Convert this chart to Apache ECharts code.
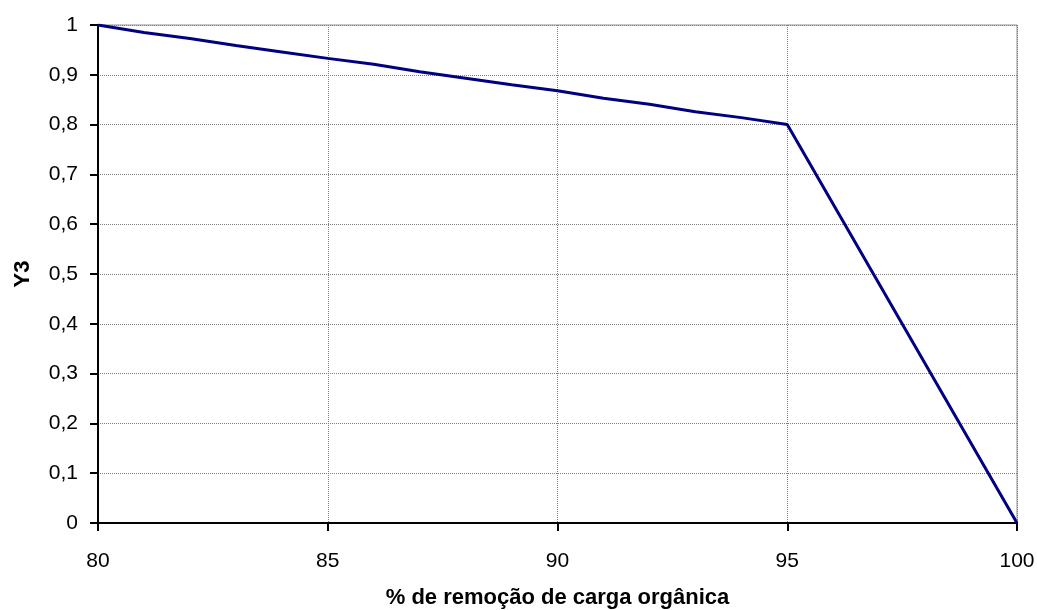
<!DOCTYPE html>
<html>
<head>
<meta charset="utf-8">
<script src="https://cdn.jsdelivr.net/npm/echarts@6/dist/echarts.min.js"></script>
<style>
  html, body { margin: 0; padding: 0; background: #fff; }
  #chart { width: 1037px; height: 610px; }
</style>
</head>
<body>
<div id="chart"></div>
<script>
// % de remoção de carga orgânica
var remocao = [80, 81, 82, 83, 84, 85, 86, 87, 88, 89, 90, 91, 92, 93, 94, 95, 100];
// Y3
var y3 = [1, 0.985, 0.973, 0.959, 0.946, 0.933, 0.921, 0.906, 0.893, 0.880,
          0.868, 0.853, 0.841, 0.826, 0.814, 0.8, 0];

var pontos = [];
for (var i = 0; i < remocao.length; i++) {
    pontos.push([remocao[i], y3[i]]);
}

var chart = echarts.init(document.getElementById('chart'));

var option = {
    backgroundColor: '#ffffff',
    animation: false,
    textStyle: { fontFamily: '"Liberation Sans", Arial, sans-serif' },
    grid: {
        left: 98, right: 20, top: 25, bottom: 87,
        outerBoundsMode: 'none',
        show: true, borderColor: '#909090', borderWidth: 1
    },
    xAxis: {
        type: 'value',
        min: 80, max: 100, interval: 5,
        name: '% de remoção de carga orgânica',
        nameLocation: 'middle',
        nameGap: 64,
        nameTextStyle: { fontSize: 22, fontWeight: 'bold', color: '#000' },
        axisLine: { onZero: false, lineStyle: { color: '#000', width: 2 } },
        axisTick: { show: true, length: 8, lineStyle: { color: '#000', width: 2 } },
        axisLabel: { fontSize: 21, color: '#000', margin: 28 },
        splitLine: { show: true, lineStyle: { color: '#808080', type: 'dotted', width: 1 } }
    },
    yAxis: {
        type: 'value',
        min: 0, max: 1, interval: 0.1,
        name: 'Y3',
        nameLocation: 'middle',
        nameGap: 64,
        nameTextStyle: { fontSize: 22, fontWeight: 'bold', color: '#000' },
        axisLine: { onZero: false, lineStyle: { color: '#000', width: 2 } },
        axisTick: { show: true, length: 8, lineStyle: { color: '#000', width: 2 } },
        axisLabel: {
            fontSize: 21, color: '#000', margin: 20,
            formatter: function (v) { return String(Math.round(v * 10) / 10).replace('.', ','); }
        },
        splitLine: { show: true, lineStyle: { color: '#808080', type: 'dotted', width: 1 } }
    },
    series: [{
        name: 'Y3',
        type: 'line',
        data: pontos,
        showSymbol: false,
        smooth: false,
        lineStyle: { color: '#000080', width: 3 },
        itemStyle: { color: '#000080' }
    }]
};
chart.setOption(option);
</script>
</body>
</html>
